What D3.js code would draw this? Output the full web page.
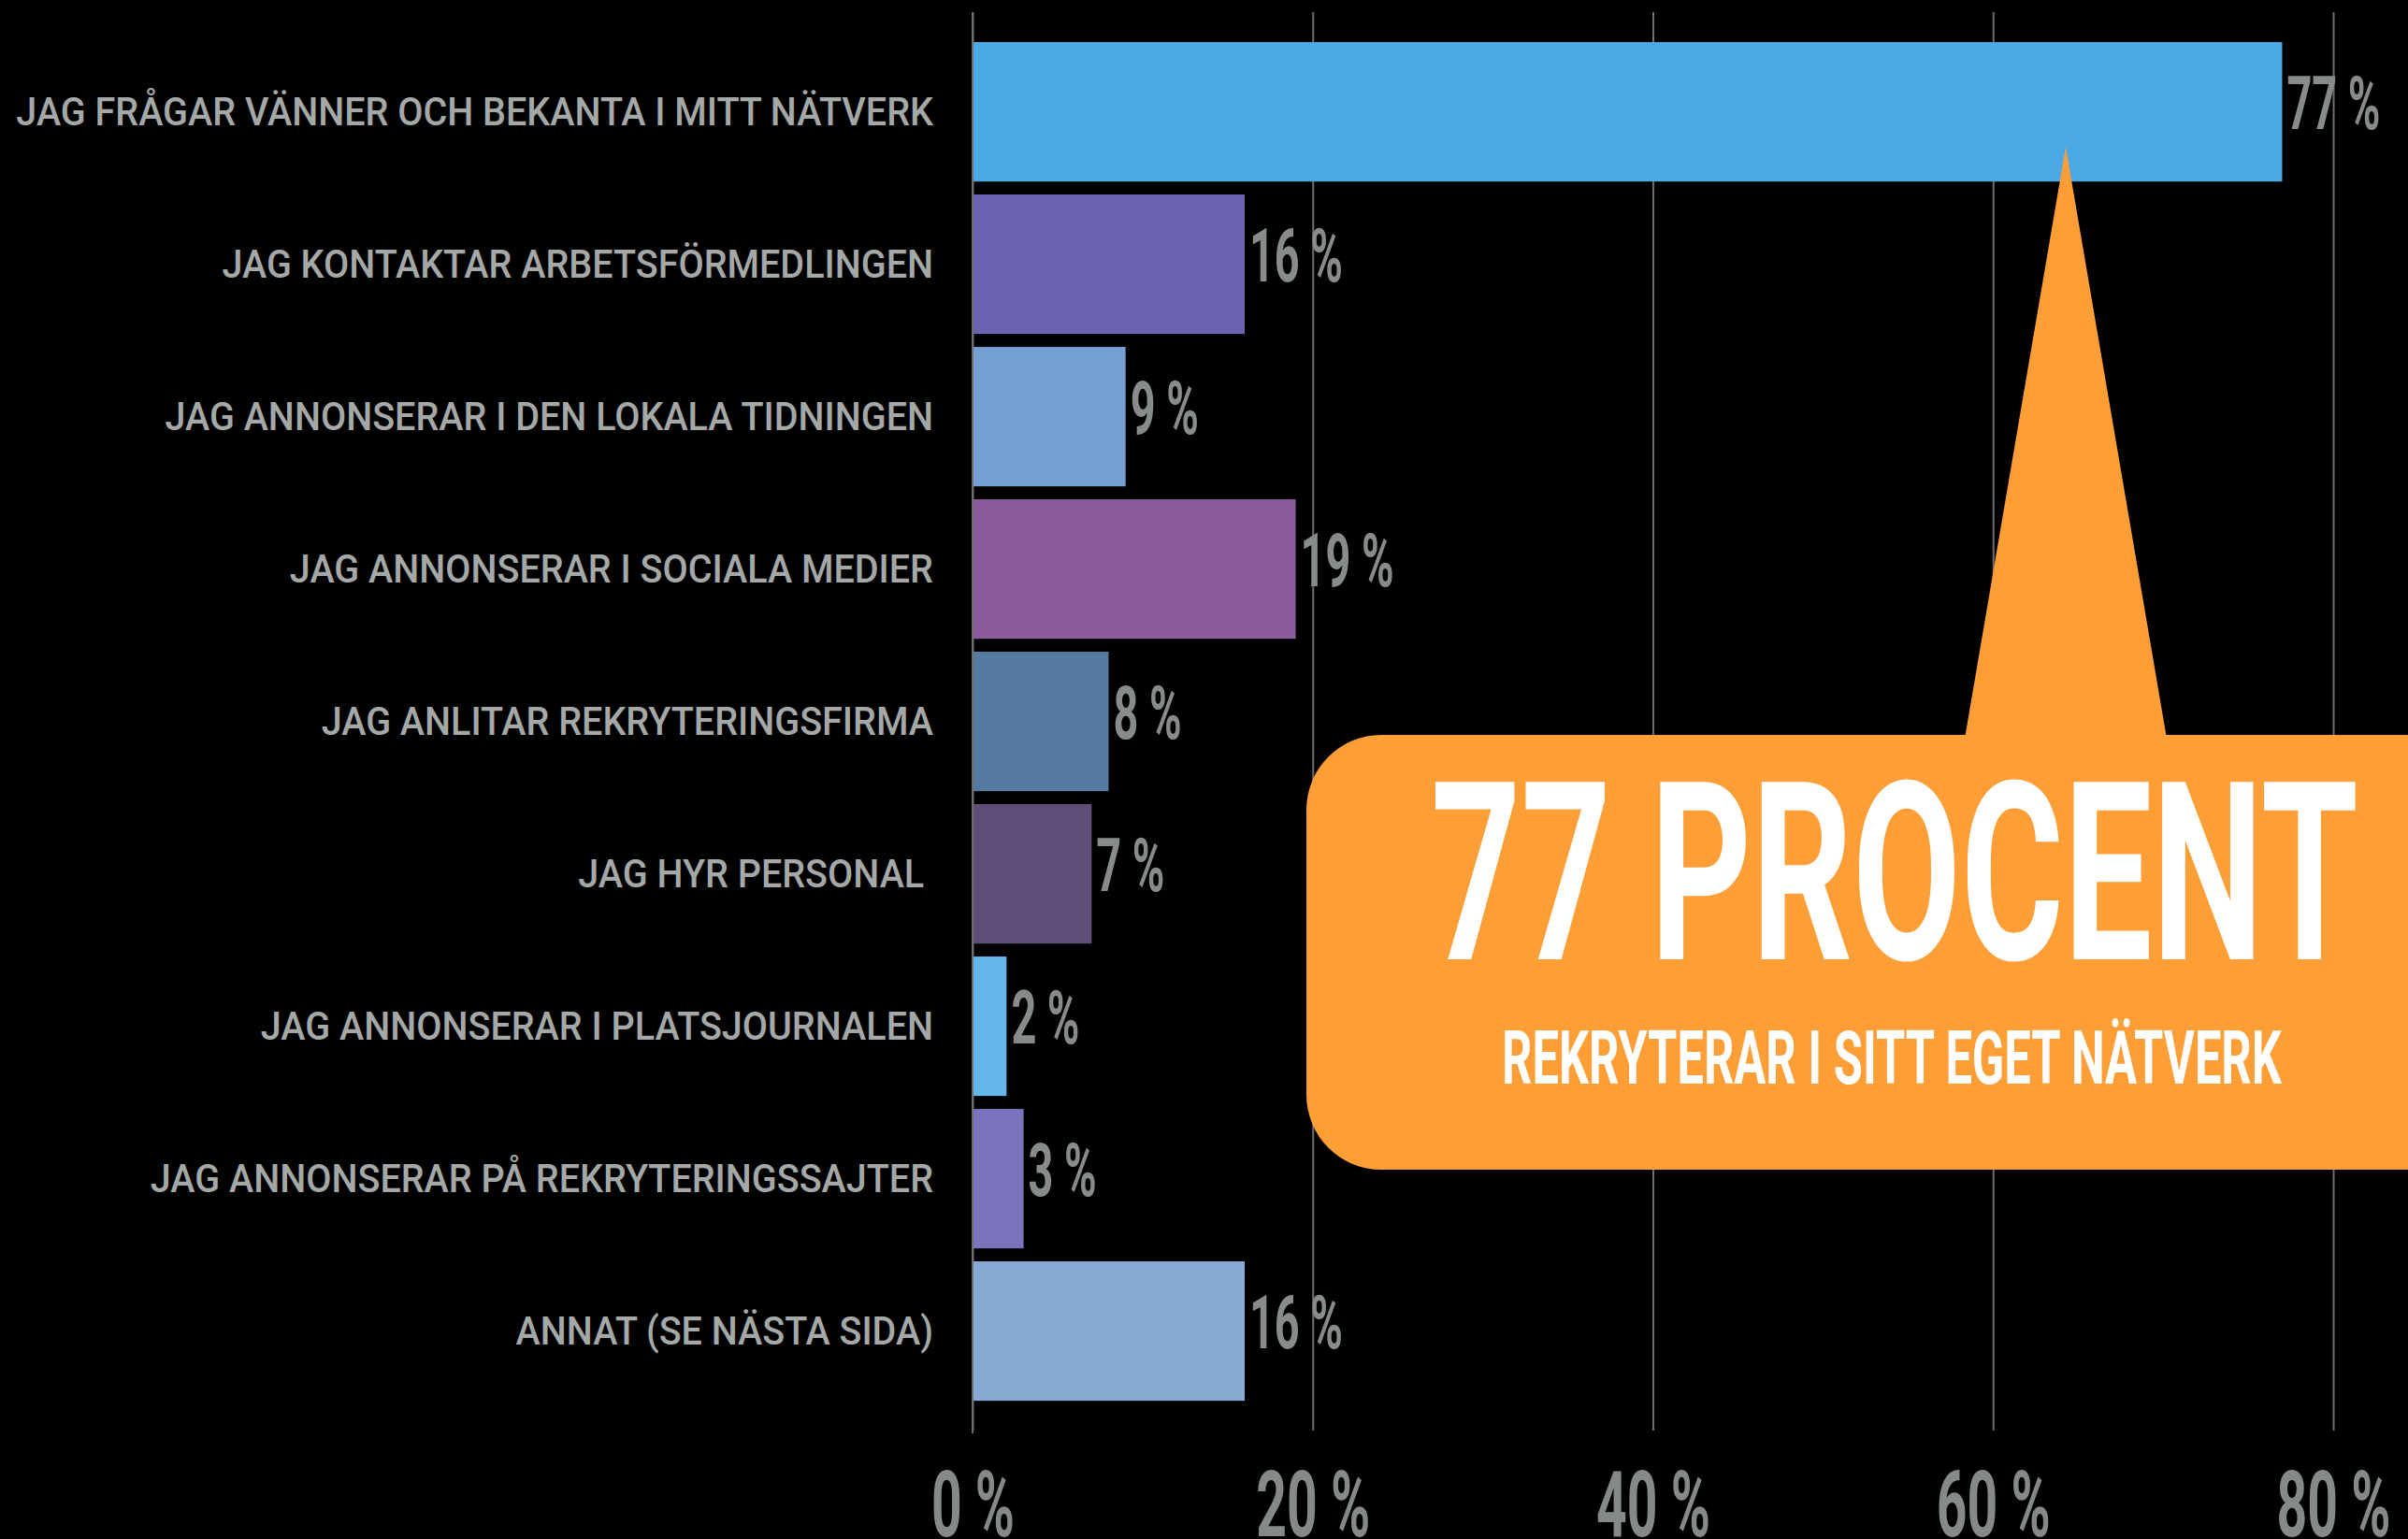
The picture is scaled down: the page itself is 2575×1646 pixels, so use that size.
<!DOCTYPE html>
<html>
<head>
<meta charset="utf-8">
<script src="https://cdn.jsdelivr.net/npm/d3@7"></script>
<style>
  html, body { margin: 0; padding: 0; background: #000; overflow: hidden; }
  svg { display: block; }
  text { white-space: pre; }
</style>
</head>
<body>
<svg id="chart" width="2575" height="1646"></svg>
<script>
// ---- data ----
const categories = [
  "JAG FRÅGAR VÄNNER OCH BEKANTA I MITT NÄTVERK",
  "JAG KONTAKTAR ARBETSFÖRMEDLINGEN",
  "JAG ANNONSERAR I DEN LOKALA TIDNINGEN",
  "JAG ANNONSERAR I SOCIALA MEDIER",
  "JAG ANLITAR REKRYTERINGSFIRMA",
  "JAG HYR PERSONAL ",
  "JAG ANNONSERAR I PLATSJOURNALEN",
  "JAG ANNONSERAR PÅ REKRYTERINGSSAJTER",
  "ANNAT (SE NÄSTA SIDA)"
];
const values = [77, 16, 9, 19, 8, 7, 2, 3, 16];
const barColors = ["#4ca9e6", "#6c63b0", "#769fd3", "#8a5c9c", "#547aa0", "#5f4f78", "#64b5ec", "#7b73bc", "#88abd6"];
const tickValues = [0, 20, 40, 60, 80];
const tickLabels = ["0 %", "20 %", "40 %", "60 %", "80 %"];
const calloutTitle = "PROCENT";
const calloutSubtitle = "REKRYTERAR I SITT EGET NÄTVERK";

// ---- layout ----
const svg = d3.select("#chart");
svg.append("rect").attr("width", 2575).attr("height", 1646).attr("fill", "#000");

const x = d3.scaleLinear().domain([0, 80]).range([1040, 2495]);
const y = d3.scaleBand().domain(categories).range([38.5, 1504.7]).paddingInner(0.085).paddingOuter(0.04);
const bw = y.bandwidth();

// helper: horizontally condense text so a reference string fits a width
function condense(sel, refNode, targetWidth) {
  const w = refNode.getComputedTextLength();
  const s = targetWidth / w;
  sel.each(function () {
    const t = d3.select(this);
    const tx = +t.attr("data-x"), ty = +t.attr("data-y");
    t.attr("transform", `translate(${tx},${ty}) scale(${s},1)`);
  });
}

// ---- grid + axis ----
const axisY = 1530;
const axis = d3.axisBottom(x)
  .tickValues(tickValues)
  .tickFormat((d, i) => tickLabels[i])
  .tickSize(-(axisY - 13))
  .tickSizeOuter(0)
  .tickPadding(43);
const gAxis = svg.append("g").attr("transform", `translate(0,${axisY})`).call(axis);
gAxis.select(".domain").remove();
gAxis.selectAll(".tick line").attr("stroke", "#6e6e6e").attr("stroke-width", 2);
gAxis.selectAll(".tick text")
  .attr("fill", "#858989")
  .attr("font-family", "Roboto, 'DejaVu Sans', sans-serif")
  .attr("font-weight", 700)
  .attr("font-size", 98);
{
  const tickTexts = gAxis.selectAll(".tick text");
  const ref = tickTexts.nodes()[tickTexts.size() - 1];
  const s = 122 / ref.getComputedTextLength();
  tickTexts.attr("transform", `scale(${s},1)`);
}
// zero-line slightly longer
svg.append("line")
  .attr("x1", x(0)).attr("x2", x(0))
  .attr("y1", 13).attr("y2", axisY + 3)
  .attr("stroke", "#6e6e6e").attr("stroke-width", 2);

// ---- bars ----
svg.append("g").selectAll("rect")
  .data(values)
  .join("rect")
  .attr("x", x(0) + 1)
  .attr("y", (d, i) => y(categories[i]))
  .attr("width", d => x(d) - x(0) - 1)
  .attr("height", bw)
  .attr("fill", (d, i) => barColors[i]);

// ---- value labels ----
const valLabels = svg.append("g").selectAll("text")
  .data(values)
  .join("text")
  .attr("data-x", d => x(d) + 5)
  .attr("data-y", (d, i) => y(categories[i]) + bw / 2 + 18)
  .attr("fill", "#878b8b")
  .attr("font-family", "Roboto, 'DejaVu Sans', sans-serif")
  .attr("font-weight", 700)
  .attr("font-size", 80)
  .text(d => d + " %");
condense(valLabels, valLabels.nodes()[0], 100);

// ---- category labels ----
const catLabels = svg.append("g").selectAll("text")
  .data(categories)
  .join("text")
  .attr("data-x", 998)
  .attr("data-y", d => y(d) + bw / 2 + 14)
  .attr("text-anchor", "end")
  .attr("fill", "#a4a8a7")
  .attr("font-family", "Roboto, 'DejaVu Sans', sans-serif")
  .attr("font-weight", 500)
  .attr("font-size", 42)
  .text(d => d);
condense(catLabels, catLabels.nodes()[0], 981);

// ---- callout ----
const orange = "#fd9e36";
const g = svg.append("g");
const tipX = 2209, tipY = 157, boxTop = 786, boxBottom = 1251, boxLeft = 1397;
g.append("path")
  .attr("d", `M${tipX},${tipY} L${tipX + 108},${boxTop + 4} L${tipX - 108},${boxTop + 4} Z`)
  .attr("fill", orange);
g.append("rect")
  .attr("x", boxLeft).attr("y", boxTop)
  .attr("width", 1400).attr("height", boxBottom - boxTop)
  .attr("rx", 80).attr("ry", 80)
  .attr("fill", orange);

const big = g.append("text")
  .attr("data-x", 2026).attr("data-y", 1026)
  .attr("text-anchor", "middle")
  .attr("fill", "#fff")
  .attr("font-family", "Roboto, 'DejaVu Sans', sans-serif")
  .attr("font-weight", 700)
  .attr("font-size", 267)
  .text(values[0] + " " + calloutTitle);
condense(big, big.node(), 992);

const sub = g.append("text")
  .attr("data-x", 2023).attr("data-y", 1159)
  .attr("text-anchor", "middle")
  .attr("fill", "#fff")
  .attr("font-family", "Roboto, 'DejaVu Sans', sans-serif")
  .attr("font-weight", 700)
  .attr("font-size", 80)
  .text(calloutSubtitle);
condense(sub, sub.node(), 834);
</script>
</body>
</html>
